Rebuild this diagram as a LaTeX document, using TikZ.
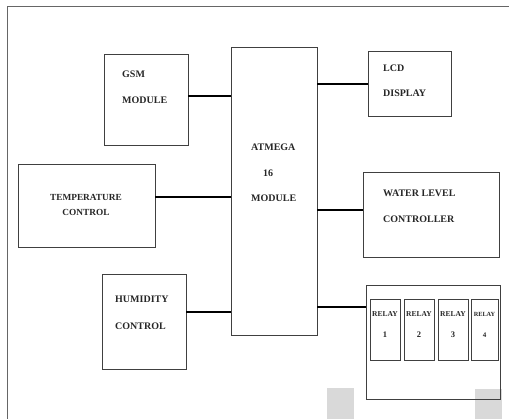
\documentclass[tikz,border=0pt]{standalone}
\usepackage{fontspec}
\setmainfont{Liberation Serif}
\usepackage{tikz}
\usetikzlibrary{fit}

\begin{document}
\begin{tikzpicture}[x=1pt,y=-1pt,
  blk/.style={draw=black!75,line width=0.9pt,inner sep=0pt,outer sep=0pt},
  conn/.style={line width=1.8pt,black},
  lbl/.style={font=\bfseries\fontsize{10}{11}\selectfont,inner sep=0pt,text=black!85},
  rlbl/.style={font=\bfseries\fontsize{7.5}{8}\selectfont,inner sep=0pt,text=black!85}]
\useasboundingbox (0,0) rectangle (509,419);

% scan marks
\fill[black!15] (327,388) rectangle (354,420);
\fill[black!15] (475,389) rectangle (502,420);

% frame
\draw[black!60,line width=0.8pt] (7,420) -- (7,6) -- (510,6);

% blocks
\node[blk,fit={(104,54) (188,145)}] (gsm) {};
\node[blk,fit={(231,47) (317,335)}] (atm) {};
\node[blk,fit={(368,51) (451,116)}] (lcd) {};
\node[blk,fit={(18,164) (155,247)}] (temp) {};
\node[blk,fit={(363,172) (499,257)}] (water) {};
\node[blk,fit={(102,274) (186,369)}] (hum) {};
\node[blk,fit={(366,285) (500,399)}] (relays) {};

% relay cards
\foreach \i/\l/\r in {1/370/400,2/404/434,3/438/468}{
  \node[blk,fit={(\l,299) (\r,360)}] (relay\i) {};
  \node[rlbl] (rt\i) at ({(\l+\r)/2},314) {RELAY};
  \node[rlbl,font=\bfseries\fontsize{8.5}{9}\selectfont] (rn\i) at ({(\l+\r)/2},335) {\i};
}
\node[blk,fit={(471,299) (498,360)}] (relay4) {};
\node[rlbl,font=\bfseries\fontsize{6.3}{7}\selectfont] (rt4) at (484.5,314) {RELAY};
\node[rlbl,font=\bfseries\fontsize{7}{7}\selectfont] (rn4) at (484.5,335) {4};

% texts
\node[lbl,anchor=west] (gsmA) at (122,74) {GSM};
\node[lbl,anchor=west] (gsmB) at (122,100) {MODULE};
\node[lbl,anchor=west] (lcdA) at (383,68) {LCD};
\node[lbl,anchor=west] (lcdB) at (383,93) {DISPLAY};
\node[lbl,anchor=west] (atmA) at (251,147) {ATMEGA};
\node[lbl,anchor=west] (atmB) at (263,173) {16};
\node[lbl,anchor=west] (atmC) at (251,198) {MODULE};
\node[lbl,font=\bfseries\fontsize{9.3}{10}\selectfont] (tempA) at (86,197) {TEMPERATURE};
\node[lbl,font=\bfseries\fontsize{9.3}{10}\selectfont] (tempB) at (86,212) {CONTROL};
\node[lbl,anchor=west] (watA) at (383,193) {WATER LEVEL};
\node[lbl,anchor=west] (watB) at (383,219) {CONTROLLER};
\node[lbl,anchor=west] (humA) at (115,299) {HUMIDITY};
\node[lbl,anchor=west] (humB) at (115,326) {CONTROL};

% links
\draw[conn] (gsm.east |- 0,96) -- (atm.west |- 0,96);
\draw[conn] (temp.east |- 0,197) -- (atm.west |- 0,197);
\draw[conn] (hum.east |- 0,312) -- (atm.west |- 0,312);
\draw[conn] (atm.east |- 0,84) -- (lcd.west |- 0,84);
\draw[conn] (atm.east |- 0,210) -- (water.west |- 0,210);
\draw[conn] (atm.east |- 0,307) -- (relays.west |- 0,307);
\end{tikzpicture}
\end{document}
